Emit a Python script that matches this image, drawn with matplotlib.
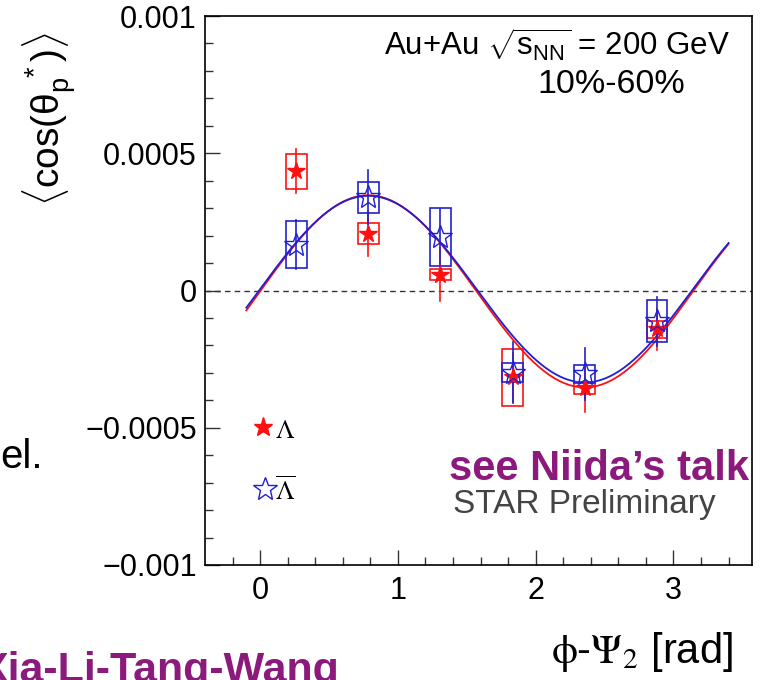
import numpy as np
import matplotlib
matplotlib.use("Agg")
import matplotlib.pyplot as plt
from matplotlib.patches import Rectangle

plt.rcParams['font.family'] = ['Liberation Sans', 'DejaVu Sans']
plt.rcParams['mathtext.fontset'] = 'custom'
plt.rcParams['mathtext.rm'] = 'Liberation Sans'
plt.rcParams['mathtext.it'] = 'Liberation Sans'
plt.rcParams['mathtext.bf'] = 'Liberation Sans:bold'

# phi - Psi_2 bin centres [rad]
phi = [0.262, 0.785, 1.309, 1.833, 2.356, 2.880]

# Lambda
lam = [4.35e-4, 2.07e-4, 0.58e-4, -3.16e-4, -3.55e-4, -1.42e-4]
lam_stat = [0.80e-4, 0.82e-4, 0.97e-4, 0.90e-4, 0.88e-4, 0.73e-4]
lam_sys = [0.64e-4, 0.39e-4, 0.21e-4, 1.03e-4, 0.23e-4, 0.30e-4]

# anti-Lambda
alam = [1.67e-4, 3.40e-4, 1.96e-4, -2.99e-4, -3.03e-4, -1.12e-4]
alam_stat = [0.90e-4, 0.99e-4, 1.00e-4, 1.10e-4, 0.95e-4, 0.90e-4]
alam_sys = [0.86e-4, 0.57e-4, 1.05e-4, 0.35e-4, 0.33e-4, 0.77e-4]

# fits p0 + p1*sin(2(phi-Psi2))
fit_p0 = [-0.03e-4, 0.05e-4]
fit_p1 = [3.50e-4, 3.40e-4]
fit_range = [-0.1, 3.4]

yticks = [0.001, 0.0005, 0, -0.0005, -0.001]
ytick_labels = ['0.001', '0.0005', '0', '\u22120.0005', '\u22120.001']
xticks = [0, 1, 2, 3]

RED = '#ff1010'
BLUE = '#2020d0'
PURPLE = '#8c1a7c'

W, H = 769, 680
fig = plt.figure(figsize=(W / 100, H / 100), dpi=100)

def fx(px):
    return px / W

def fy(py):
    return 1 - py / H

ax = fig.add_axes([fx(205), fy(565), fx(752) - fx(205), fy(16) - fy(565)])
ax.set_xlim(-0.4, 3.57)
ax.set_ylim(-0.001, 0.001)

ax.axhline(0, color='#333333', lw=1.0, ls=(0, (4, 3)), zorder=1)

# fit curves
xf = np.linspace(fit_range[0], fit_range[1], 300)
for p0, p1, c in zip(fit_p0, fit_p1, [RED, BLUE]):
    ax.plot(xf, p0 + p1 * np.sin(2 * xf), color=c, lw=1.3, zorder=2)

bw = 0.075
for xs, ys, es, ss, c in [(phi, lam, lam_stat, lam_sys, RED),
                          (phi, alam, alam_stat, alam_sys, BLUE)]:
    for x, y, e, s in zip(xs, ys, es, ss):
        ax.add_patch(Rectangle((x - bw, y - s), 2 * bw, 2 * s, fill=False,
                               ec=c, lw=1.2, zorder=3))
        ax.plot([x, x], [y - e, y + e], color=c, lw=1.2, zorder=3)

ax.plot(phi, lam, ls='none', marker='*', ms=13, color=RED, mec=RED, zorder=4)
ax.plot(phi, alam, ls='none', marker='*', ms=18, mfc='none', mec=BLUE,
        mew=1.0, zorder=5)

ax.set_yticks(yticks)
ax.set_yticklabels(ytick_labels)
ax.set_xticks(xticks)
ax.set_xticks(np.arange(-0.2, 3.6, 0.2), minor=True)
ax.set_yticks(np.arange(-0.001, 0.00101, 0.0001), minor=True)
ax.tick_params(which='both', direction='in', labelsize=22, width=1.0,
               color='#333333')
ax.tick_params(which='major', length=11)
ax.tick_params(which='minor', length=5.5)
ax.tick_params(axis='y', pad=6)
ax.tick_params(axis='x', pad=8)
for sp in ax.spines.values():
    sp.set_linewidth(1.2)

# legend
def axp(px, py):
    return (px - 205) / (752 - 205), (565 - py) / (565 - 16)

ax.plot(*axp(263, 427), marker='*', ms=14, color=RED, transform=ax.transAxes,
        clip_on=False)
ax.plot(*axp(265, 489), marker='*', ms=18, mfc='none', mec=BLUE, mew=1.0,
        transform=ax.transAxes, clip_on=False)
ax.text(*axp(275, 438), r'$\Lambda$', math_fontfamily='stix', fontsize=19,
        transform=ax.transAxes, va='baseline')
ax.text(*axp(275, 500), r'$\overline{\Lambda}$', math_fontfamily='stix',
        fontsize=19, transform=ax.transAxes, va='baseline')

# labels and annotations
fig.text(fx(50), fy(119), r'$\langle\cos(\theta_{\rm p}^{\ *})\rangle$',
         rotation=90, ha='center', va='center', fontsize=28)
fig.text(fx(733), fy(663), r'$\mathrm{\phi}$-$\mathrm{\Psi}_{2}$ [rad]',
         math_fontfamily='stix', ha='right', va='baseline', fontsize=30)
fig.text(fx(730), fy(56), r'Au+Au $\sqrt{\rm s_{NN}}$ = 200 GeV',
         ha='right', va='baseline', fontsize=22.5)
fig.text(fx(611), fy(93), '10%-60%', ha='center', va='baseline', fontsize=24.5)
fig.text(fx(449), fy(480), 'see Niida\u2019s talk', ha='left', va='baseline',
         fontsize=30, fontweight='bold', color=PURPLE)
fig.text(fx(453), fy(513), 'STAR Preliminary', ha='left', va='baseline',
         fontsize=24, color='#444444')

# slide text around the figure
fig.text(fx(43), fy(468), 'el.', ha='right', va='baseline', fontsize=29)
fig.text(fx(340), fy(682), 'Xia-Li-Tang-Wang', ha='right', va='baseline',
         fontsize=31, fontweight='bold', color=PURPLE)

fig.savefig('out.png', dpi=100)
